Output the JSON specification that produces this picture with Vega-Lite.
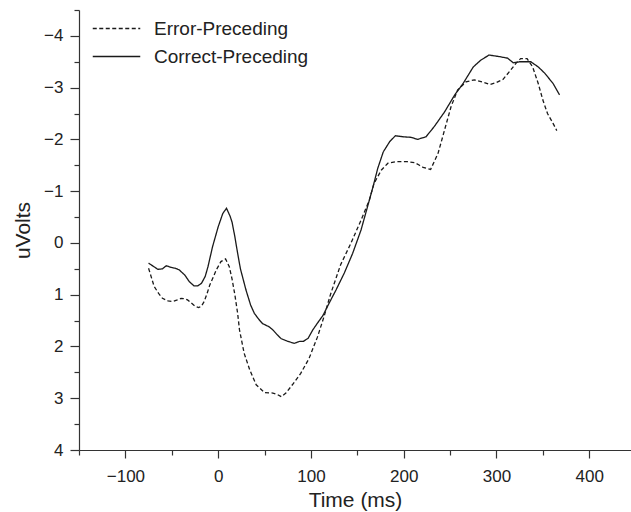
{
  "$schema": "https://vega.github.io/schema/vega-lite/v6.json",
  "width": 552,
  "height": 440,
  "autosize": {"type": "none"},
  "padding": {"left": 79, "top": 10, "right": 0, "bottom": 62},
  "background": "white",
  "config": {
    "view": {"stroke": null},
    "font": "Liberation Sans",
    "axis": {
      "grid": false,
      "domainColor": "#333333",
      "domainWidth": 1.2,
      "tickColor": "#333333",
      "tickWidth": 1.2,
      "labelColor": "#222222",
      "labelFont": "Liberation Sans",
      "labelFontSize": 17,
      "titleFont": "Liberation Sans",
      "titleFontSize": 21,
      "titleFontWeight": "normal",
      "titleColor": "#222222",
      "labelOverlap": false,
      "labelFlush": false
    },
    "legend": {
      "labelFont": "Liberation Sans",
      "labelFontSize": 19,
      "labelColor": "#222222"
    }
  },
  "data": {
    "values": [
      {"condition": "Correct-Preceding", "time": -75, "uv": 0.39},
      {"condition": "Correct-Preceding", "time": -70, "uv": 0.45},
      {"condition": "Correct-Preceding", "time": -65, "uv": 0.51},
      {"condition": "Correct-Preceding", "time": -60, "uv": 0.5},
      {"condition": "Correct-Preceding", "time": -56, "uv": 0.44},
      {"condition": "Correct-Preceding", "time": -51, "uv": 0.47},
      {"condition": "Correct-Preceding", "time": -46, "uv": 0.49},
      {"condition": "Correct-Preceding", "time": -42, "uv": 0.52},
      {"condition": "Correct-Preceding", "time": -36, "uv": 0.62},
      {"condition": "Correct-Preceding", "time": -31, "uv": 0.75},
      {"condition": "Correct-Preceding", "time": -26, "uv": 0.83},
      {"condition": "Correct-Preceding", "time": -22, "uv": 0.83},
      {"condition": "Correct-Preceding", "time": -18, "uv": 0.78},
      {"condition": "Correct-Preceding", "time": -14, "uv": 0.65},
      {"condition": "Correct-Preceding", "time": -11, "uv": 0.46},
      {"condition": "Correct-Preceding", "time": -6, "uv": 0.07},
      {"condition": "Correct-Preceding", "time": 0, "uv": -0.31},
      {"condition": "Correct-Preceding", "time": 5, "uv": -0.57},
      {"condition": "Correct-Preceding", "time": 9, "uv": -0.67},
      {"condition": "Correct-Preceding", "time": 13, "uv": -0.51},
      {"condition": "Correct-Preceding", "time": 15, "uv": -0.4},
      {"condition": "Correct-Preceding", "time": 18, "uv": -0.12},
      {"condition": "Correct-Preceding", "time": 21, "uv": 0.2},
      {"condition": "Correct-Preceding", "time": 24, "uv": 0.5},
      {"condition": "Correct-Preceding", "time": 30, "uv": 0.91},
      {"condition": "Correct-Preceding", "time": 35, "uv": 1.2},
      {"condition": "Correct-Preceding", "time": 39, "uv": 1.36},
      {"condition": "Correct-Preceding", "time": 44, "uv": 1.48},
      {"condition": "Correct-Preceding", "time": 48, "uv": 1.56},
      {"condition": "Correct-Preceding", "time": 55, "uv": 1.62},
      {"condition": "Correct-Preceding", "time": 59, "uv": 1.68},
      {"condition": "Correct-Preceding", "time": 64, "uv": 1.78},
      {"condition": "Correct-Preceding", "time": 68, "uv": 1.85},
      {"condition": "Correct-Preceding", "time": 75, "uv": 1.9},
      {"condition": "Correct-Preceding", "time": 82, "uv": 1.94},
      {"condition": "Correct-Preceding", "time": 88, "uv": 1.9},
      {"condition": "Correct-Preceding", "time": 92, "uv": 1.9},
      {"condition": "Correct-Preceding", "time": 97, "uv": 1.84},
      {"condition": "Correct-Preceding", "time": 102, "uv": 1.68},
      {"condition": "Correct-Preceding", "time": 107, "uv": 1.55},
      {"condition": "Correct-Preceding", "time": 113, "uv": 1.4},
      {"condition": "Correct-Preceding", "time": 120, "uv": 1.15},
      {"condition": "Correct-Preceding", "time": 127, "uv": 0.91},
      {"condition": "Correct-Preceding", "time": 136, "uv": 0.58},
      {"condition": "Correct-Preceding", "time": 145, "uv": 0.2},
      {"condition": "Correct-Preceding", "time": 154, "uv": -0.25},
      {"condition": "Correct-Preceding", "time": 161, "uv": -0.7},
      {"condition": "Correct-Preceding", "time": 167, "uv": -1.09},
      {"condition": "Correct-Preceding", "time": 172, "uv": -1.44},
      {"condition": "Correct-Preceding", "time": 178, "uv": -1.76},
      {"condition": "Correct-Preceding", "time": 185, "uv": -1.96},
      {"condition": "Correct-Preceding", "time": 191, "uv": -2.07},
      {"condition": "Correct-Preceding", "time": 200, "uv": -2.05},
      {"condition": "Correct-Preceding", "time": 208, "uv": -2.04},
      {"condition": "Correct-Preceding", "time": 215, "uv": -2.0},
      {"condition": "Correct-Preceding", "time": 220, "uv": -2.03},
      {"condition": "Correct-Preceding", "time": 224, "uv": -2.05},
      {"condition": "Correct-Preceding", "time": 233, "uv": -2.25},
      {"condition": "Correct-Preceding", "time": 244, "uv": -2.53},
      {"condition": "Correct-Preceding", "time": 255, "uv": -2.86},
      {"condition": "Correct-Preceding", "time": 264, "uv": -3.08},
      {"condition": "Correct-Preceding", "time": 275, "uv": -3.4},
      {"condition": "Correct-Preceding", "time": 283, "uv": -3.53},
      {"condition": "Correct-Preceding", "time": 292, "uv": -3.63},
      {"condition": "Correct-Preceding", "time": 303, "uv": -3.6},
      {"condition": "Correct-Preceding", "time": 312, "uv": -3.57},
      {"condition": "Correct-Preceding", "time": 318, "uv": -3.48},
      {"condition": "Correct-Preceding", "time": 325, "uv": -3.5},
      {"condition": "Correct-Preceding", "time": 337, "uv": -3.5},
      {"condition": "Correct-Preceding", "time": 345, "uv": -3.4},
      {"condition": "Correct-Preceding", "time": 352, "uv": -3.28},
      {"condition": "Correct-Preceding", "time": 361, "uv": -3.08},
      {"condition": "Correct-Preceding", "time": 368, "uv": -2.86},
      {"condition": "Error-Preceding", "time": -75, "uv": 0.49},
      {"condition": "Error-Preceding", "time": -69, "uv": 0.84},
      {"condition": "Error-Preceding", "time": -64, "uv": 0.98},
      {"condition": "Error-Preceding", "time": -60, "uv": 1.07},
      {"condition": "Error-Preceding", "time": -54, "uv": 1.12},
      {"condition": "Error-Preceding", "time": -49, "uv": 1.13},
      {"condition": "Error-Preceding", "time": -44, "uv": 1.1},
      {"condition": "Error-Preceding", "time": -40, "uv": 1.07},
      {"condition": "Error-Preceding", "time": -36, "uv": 1.08},
      {"condition": "Error-Preceding", "time": -33, "uv": 1.1},
      {"condition": "Error-Preceding", "time": -29, "uv": 1.16},
      {"condition": "Error-Preceding", "time": -25, "uv": 1.22},
      {"condition": "Error-Preceding", "time": -21, "uv": 1.25},
      {"condition": "Error-Preceding", "time": -18, "uv": 1.22},
      {"condition": "Error-Preceding", "time": -15, "uv": 1.13},
      {"condition": "Error-Preceding", "time": -12, "uv": 0.98},
      {"condition": "Error-Preceding", "time": -9, "uv": 0.81},
      {"condition": "Error-Preceding", "time": -5, "uv": 0.65},
      {"condition": "Error-Preceding", "time": -2, "uv": 0.52},
      {"condition": "Error-Preceding", "time": 3, "uv": 0.36},
      {"condition": "Error-Preceding", "time": 8, "uv": 0.31},
      {"condition": "Error-Preceding", "time": 12, "uv": 0.46},
      {"condition": "Error-Preceding", "time": 15, "uv": 0.7},
      {"condition": "Error-Preceding", "time": 18, "uv": 1.0},
      {"condition": "Error-Preceding", "time": 21, "uv": 1.36},
      {"condition": "Error-Preceding", "time": 23, "uv": 1.68},
      {"condition": "Error-Preceding", "time": 28, "uv": 2.13},
      {"condition": "Error-Preceding", "time": 34, "uv": 2.45},
      {"condition": "Error-Preceding", "time": 41, "uv": 2.74},
      {"condition": "Error-Preceding", "time": 50, "uv": 2.89},
      {"condition": "Error-Preceding", "time": 59, "uv": 2.9},
      {"condition": "Error-Preceding", "time": 64, "uv": 2.93},
      {"condition": "Error-Preceding", "time": 68, "uv": 2.97},
      {"condition": "Error-Preceding", "time": 73, "uv": 2.9},
      {"condition": "Error-Preceding", "time": 80, "uv": 2.74},
      {"condition": "Error-Preceding", "time": 89, "uv": 2.52},
      {"condition": "Error-Preceding", "time": 98, "uv": 2.23},
      {"condition": "Error-Preceding", "time": 103, "uv": 2.0},
      {"condition": "Error-Preceding", "time": 107, "uv": 1.82},
      {"condition": "Error-Preceding", "time": 114, "uv": 1.43},
      {"condition": "Error-Preceding", "time": 121, "uv": 1.0},
      {"condition": "Error-Preceding", "time": 124, "uv": 0.84},
      {"condition": "Error-Preceding", "time": 132, "uv": 0.42},
      {"condition": "Error-Preceding", "time": 143, "uv": 0.01},
      {"condition": "Error-Preceding", "time": 154, "uv": -0.44},
      {"condition": "Error-Preceding", "time": 163, "uv": -0.83},
      {"condition": "Error-Preceding", "time": 168, "uv": -1.15},
      {"condition": "Error-Preceding", "time": 176, "uv": -1.41},
      {"condition": "Error-Preceding", "time": 183, "uv": -1.54},
      {"condition": "Error-Preceding", "time": 192, "uv": -1.57},
      {"condition": "Error-Preceding", "time": 204, "uv": -1.57},
      {"condition": "Error-Preceding", "time": 212, "uv": -1.55},
      {"condition": "Error-Preceding", "time": 217, "uv": -1.5},
      {"condition": "Error-Preceding", "time": 221, "uv": -1.46},
      {"condition": "Error-Preceding", "time": 229, "uv": -1.42},
      {"condition": "Error-Preceding", "time": 237, "uv": -1.73},
      {"condition": "Error-Preceding", "time": 244, "uv": -2.18},
      {"condition": "Error-Preceding", "time": 251, "uv": -2.63},
      {"condition": "Error-Preceding", "time": 258, "uv": -2.95},
      {"condition": "Error-Preceding", "time": 267, "uv": -3.11},
      {"condition": "Error-Preceding", "time": 276, "uv": -3.15},
      {"condition": "Error-Preceding", "time": 285, "uv": -3.11},
      {"condition": "Error-Preceding", "time": 293, "uv": -3.06},
      {"condition": "Error-Preceding", "time": 300, "uv": -3.1},
      {"condition": "Error-Preceding", "time": 307, "uv": -3.16},
      {"condition": "Error-Preceding", "time": 314, "uv": -3.31},
      {"condition": "Error-Preceding", "time": 321, "uv": -3.47},
      {"condition": "Error-Preceding", "time": 326, "uv": -3.56},
      {"condition": "Error-Preceding", "time": 333, "uv": -3.56},
      {"condition": "Error-Preceding", "time": 339, "uv": -3.4},
      {"condition": "Error-Preceding", "time": 345, "uv": -3.08},
      {"condition": "Error-Preceding", "time": 350, "uv": -2.76},
      {"condition": "Error-Preceding", "time": 355, "uv": -2.5},
      {"condition": "Error-Preceding", "time": 361, "uv": -2.31},
      {"condition": "Error-Preceding", "time": 365, "uv": -2.17}
    ]
  },
  "mark": {"type": "line", "color": "#1a1a1a", "strokeWidth": 1.3},
  "encoding": {
    "x": {
      "field": "time",
      "type": "quantitative",
      "title": "Time (ms)",
      "scale": {"domain": [-150, 445], "nice": false, "zero": false},
      "axis": {
        "values": [-150, -100, -50, 0, 50, 100, 150, 200, 250, 300, 350, 400],
        "labelExpr": "datum.value % 100 !== 0 ? '' : (datum.value < 0 ? '\u2212' + format(abs(datum.value), 'd') : format(datum.value, 'd'))",
        "tickSize": {"condition": {"test": "datum.value % 100 === 0", "value": 8}, "value": 5},
        "labelPadding": 10,
        "titlePadding": 5
      }
    },
    "y": {
      "field": "uv",
      "type": "quantitative",
      "title": "uVolts",
      "scale": {"domain": [-4.5, 4], "reverse": true, "nice": false, "zero": false},
      "axis": {
        "values": [-4.5, -4, -3.5, -3, -2.5, -2, -1.5, -1, -0.5, 0, 0.5, 1, 1.5, 2, 2.5, 3, 3.5, 4],
        "labelExpr": "datum.value % 1 !== 0 ? '' : (datum.value < 0 ? '\u2212' + format(abs(datum.value), 'd') : format(datum.value, 'd'))",
        "tickSize": {"condition": {"test": "datum.value % 1 === 0", "value": 9}, "value": 5},
        "labelPadding": 7,
        "titlePadding": 10
      }
    },
    "strokeDash": {
      "field": "condition",
      "type": "nominal",
      "scale": {
        "domain": ["Error-Preceding", "Correct-Preceding"],
        "range": [[4, 2.5], [1, 0]]
      },
      "legend": {
        "title": null,
        "orient": "none",
        "legendX": 27,
        "legendY": 8,
        "padding": 0,
        "rowPadding": 7,
        "symbolType": "M-2.5,0H2.5",
        "symbolSize": 361,
        "symbolStrokeColor": "#1a1a1a",
        "symbolStrokeWidth": 1.3,
        "labelOffset": 27
      }
    }
  }
}
